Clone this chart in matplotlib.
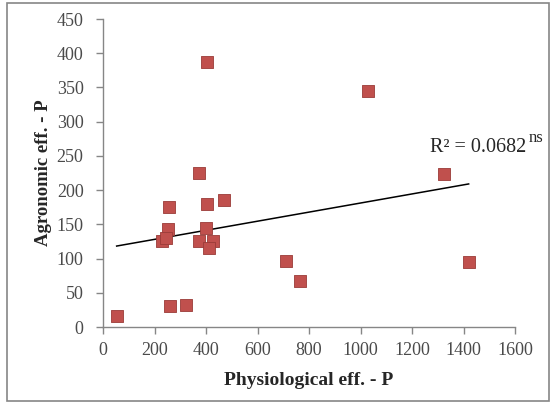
import numpy as np
import matplotlib
matplotlib.use("Agg")
import matplotlib.pyplot as plt
from matplotlib.patches import Rectangle

# data
phys_eff = [53, 402, 1029, 1324, 1420, 709, 765, 374, 256, 402, 469, 251, 400, 228, 245, 374, 428, 413, 260, 322]
agro_eff = [16, 387, 345, 223, 95, 97, 67, 225, 175, 180, 186, 143, 145, 125, 130, 125, 125, 116, 30, 32]
x_ticks = [0, 200, 400, 600, 800, 1000, 1200, 1400, 1600]
y_ticks = [0, 50, 100, 150, 200, 250, 300, 350, 400, 450]

W, H = 552, 403
fig = plt.figure(figsize=(W / 100, H / 100), dpi=100)
fig.patch.set_facecolor("white")
ax = fig.add_axes([103 / W, 1 - 327 / H, (515 - 103) / W, (327 - 19) / H])

ax.scatter(phys_eff, agro_eff, marker="s", s=82, color="#C0504D",
           edgecolors="#9A3B38", linewidths=0.6, zorder=3)

# linear trendline
xa = np.array(phys_eff, dtype=float)
ya = np.array(agro_eff, dtype=float)
m, b = np.polyfit(xa, ya, 1)
xl = np.array([xa.min(), xa.max()])
ax.plot(xl, m * xl + b, color="black", lw=1.1, zorder=2)

ax.set_xlim(0, 1600)
ax.set_ylim(0, 450)
ax.set_xticks(x_ticks)
ax.set_yticks(y_ticks)
for s in ["top", "right"]:
    ax.spines[s].set_visible(False)
for s in ["left", "bottom"]:
    ax.spines[s].set_color("#868686")
    ax.spines[s].set_linewidth(1.0)
ax.tick_params(direction="out", length=5, width=1, color="#868686",
               labelsize=13, labelcolor="#4a4a4a")
ax.tick_params(axis="y", pad=9)
ax.tick_params(axis="x", pad=6)
for lab in ax.get_xticklabels() + ax.get_yticklabels():
    lab.set_fontfamily("Liberation Serif")

ax.set_xlabel("Physiological eff. - P", fontfamily="Liberation Serif",
              fontweight="bold", fontsize=14, color="#262626", labelpad=9)
ax.set_ylabel("Agronomic eff. - P", fontfamily="Liberation Serif",
              fontweight="bold", fontsize=13.5, color="#262626", labelpad=3)

ax.text(1268, 262, "R² = 0.0682", fontfamily="Liberation Serif", fontsize=14.5,
        color="#262626", va="center", ha="left")
ax.text(1655, 276, "ns", fontfamily="Liberation Serif", fontsize=12,
        color="#262626", va="center", ha="left", clip_on=False)

fig.patches.append(Rectangle((7 / W, 1 - 401 / H), (549 - 7) / W, (401 - 3) / H,
                             transform=fig.transFigure, fill=False,
                             edgecolor="#868686", lw=1.2))

fig.savefig("out.png", dpi=100)
